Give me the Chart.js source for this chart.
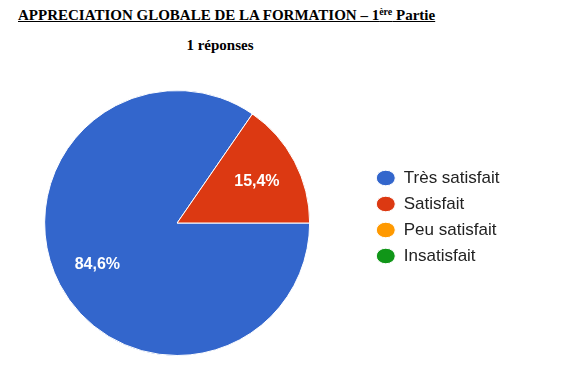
<!DOCTYPE html>
<html>
<head>
<meta charset="utf-8">
<script src="https://cdn.jsdelivr.net/npm/chart.js@4"></script>
<style>
    body { margin: 0; width: 567px; height: 376px; background: #fff; overflow: hidden; position: relative; }
    #title { position: absolute; left: 18px; top: 8px; font: bold 15px 'Liberation Serif', 'Times New Roman', serif; text-decoration: underline; white-space: nowrap; line-height: 15px; }
    #title sup { font-size: 10px; vertical-align: 5px; line-height: 0; }
    #subtitle { position: absolute; left: 0; width: 440px; text-align: center; top: 38px; font: bold 15px 'Liberation Serif', 'Times New Roman', serif; line-height: 15px; }
    #pie { position: absolute; left: -13px; top: 0; }
</style>
</head>
<body>
<div id="title">APPRECIATION GLOBALE DE LA FORMATION – 1<sup>ère</sup> Partie</div>
<div id="subtitle">1 réponses</div>
<canvas id="pie" width="580" height="376"></canvas>
<script>
const categories = ['Très satisfait', 'Satisfait', 'Peu satisfait', 'Insatisfait'];
const responses = [11, 2, 0, 0];
const colors = ['#3366cc', '#dc3912', '#ff9900', '#109618'];

// white percent labels inside the slices
const sliceLabels = {
    id: 'sliceLabels',
    afterDatasetsDraw(chart) {
        const ctx = chart.ctx;
        const total = responses.reduce((a, b) => a + b, 0);
        chart.getDatasetMeta(0).data.forEach((arc, i) => {
            if (!responses[i]) return;
            const mid = (arc.startAngle + arc.endAngle) / 2;
            const r = arc.outerRadius * 0.68;
            const pct = (responses[i] / total * 100).toFixed(1).replace('.', ',') + '%';
            ctx.save();
            ctx.font = 'bold 16px "Liberation Sans", Arial, sans-serif';
            ctx.fillStyle = '#fff';
            ctx.textAlign = 'center';
            ctx.textBaseline = 'middle';
            ctx.fillText(pct, arc.x + Math.cos(mid) * r, arc.y + Math.sin(mid) * r);
            ctx.restore();
        });
    }
};

new Chart(document.getElementById('pie').getContext('2d'), {
    type: 'pie',
    data: {
        labels: categories,
        datasets: [{
            data: responses,
            backgroundColor: colors,
            borderColor: '#fff',
            borderWidth: 1
        }]
    },
    options: {
        responsive: false,
        animation: false,
        rotation: 90,
        layout: { padding: { left: 0, top: 90, bottom: 20, right: 57.5 } },
        plugins: {
            tooltip: { enabled: false },
            legend: {
                position: 'right',
                align: 'start',
                title: { display: true, text: '', font: { size: 1, lineHeight: 1 }, padding: { top: 69.5, bottom: 0 } },
                labels: {
                    usePointStyle: true,
                    pointStyle: 'circle',
                    pointStyleWidth: 19,
                    boxHeight: 11,
                    padding: 9,
                    color: '#222',
                    font: { size: 17, family: '"Liberation Sans", Arial, sans-serif' }
                }
            }
        }
    },
    plugins: [sliceLabels]
});
</script>
</body>
</html>
